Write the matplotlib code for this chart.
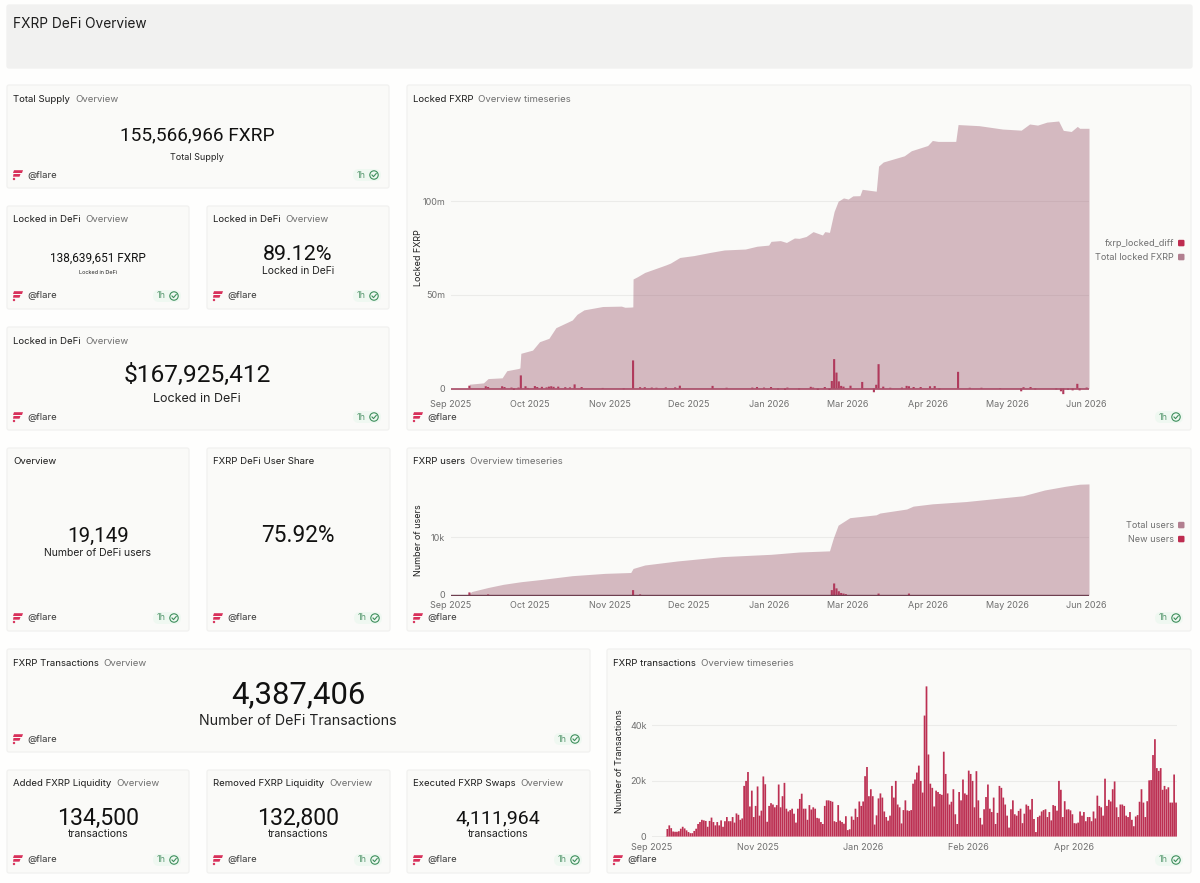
"""
plot.py - FXRP DeFi overview dashboard, cards plus three daily time series.
Page furniture is drawn in pixels on a full figure axes, charts get own axes.
"""
import matplotlib
matplotlib.use("Agg")
import matplotlib.pyplot as plt
from matplotlib.patches import Circle, FancyBboxPatch

W, H = 1200, 883
plt.rcParams["font.family"] = ["Inter", "DejaVu Sans"]

BG = "#fefefd"
CARD = "#fafaf8"
EDGE = "#f1f1ef"
HEAD = "#f1f1f0"
INK = "#1c1c1c"
GREY = "#6f6f6f"
CRIMSON = "#be2c50"
AREA = "#9b596e"

# locked FXRP area, in days since 1 Sep 2025 and millions
locked_days = [0, 7.9, 8, 14, 16, 22, 24, 29, 29.6, 30, 35, 38, 42, 45, 52, 54, 57, 65, 73, 74.5,
               77, 77.9, 78, 80, 83, 92, 94, 98, 104, 111, 117, 126, 131, 136, 137, 141, 143.6,
               147, 149, 152, 155, 159, 160, 162, 164, 165.7, 168, 170, 172, 175, 176, 182,
               183, 185, 191, 194, 197, 204, 206, 208.4, 216, 217, 226, 236, 244, 247.6, 251,
               255, 260, 262, 265.4, 268, 269, 273]
locked_total = [0, 0, 2.3, 3, 5.3, 5.7, 9.5, 10.7, 11, 18.8, 20.5, 25, 26.8, 32.5, 36.6, 39.6, 42,
                43.8, 44, 43.4, 43.5, 43.6, 58.5, 59.8, 62, 66, 67, 70, 71, 72.7, 74, 74.5, 76,
                76.6, 78.6, 79, 78, 80.4, 80.2, 81.2, 83.8, 82, 83.8, 83.4, 94.6, 100, 101.8,
                101.2, 102.9, 103, 106.4, 105.4, 118.8, 121, 123.2, 124.3, 127, 129.8, 132.5,
                132, 132, 141, 140.4, 138.6, 138, 141.3, 140.7, 142.3, 142.9, 137.9, 137.3,
                140, 139, 139]

# fxrp_locked_diff bars, only the days that rise off the baseline
diff_days = [8, 15, 16, 22, 23, 26, 27, 29, 30, 32, 33, 36, 37, 39, 41, 42, 43, 44, 46, 49, 51, 53,
             56, 65, 74, 78, 81, 83, 86, 88, 92, 96, 98, 112, 118, 129, 131, 134, 137, 140, 143,
             144, 149, 154, 155, 157, 160, 162, 163, 164, 165, 166, 167, 168, 171, 176, 181,
             182, 183, 185, 188, 193, 195, 196, 198, 201, 205, 207, 209, 217, 222, 227, 235,
             244, 245, 248, 250, 259, 261, 262, 264, 266, 268, 269, 272]
diff_values = [1.5, 1.2, 0.8, 1.2, 0.8, 0.5, -0.8, 0.5, 7, 1.2, 0.3, 1.3, 0.8, 0.9, 0.6, 1, 1.2,
               0.9, 1, 0.7, 0.6, 2.2, 0.8, 0.3, -0.4, 15, 0.7, 0.7, 0.5, 0.4, 0.6, 0.6, 1.5, 1.4,
               0.4, 0.5, 0.8, 0.5, 0.8, -0.5, -0.8, 0.5, -0.5, 0.9, 0.5, -0.8, 0.8, -0.7, 4, 15.7,
               8.5, 3.8, 1.4, 1, 1.5, 3.5, -2, 2, 13, 1, 0.4, 0.5, 1.4, 1.2, 0.8, 0.8, 1.2, 1.3,
               -0.5, 8.9, 0.4, 0.4, -0.3, -1.5, 0.7, 0.8, -0.5, -0.5, -1.5, -3, -0.7, -1, 2.5,
               -1, 0.5]

# total users area, thousands
users_days = [0, 7.9, 8, 9, 16, 22.5, 30, 39, 52, 66, 77, 78, 83, 97, 116, 137, 149, 162, 163.6,
              165.7, 170.7, 182, 183.5, 195, 197.8, 206, 220.5, 244.8, 254, 263, 269, 273]
users_total = [0, 0, 0.3, 0.6, 1.3, 1.85, 2.3, 2.7, 3.35, 3.75, 3.9, 4.6, 5.2, 5.9, 6.65, 7.05,
               7.45, 7.65, 9.8, 12.1, 13.4, 13.9, 14.2, 14.9, 15.4, 15.8, 16.2, 17.2, 18.2, 18.85,
               19.2, 19.25]
new_days = [8, 16, 78, 81, 163, 164, 165, 166, 167, 168, 169, 183, 196]
new_users = [0.45, 0.1, 0.85, 0.1, 0.85, 2, 1.15, 0.65, 0.35, 0.25, 0.15, 0.25, 0.25]

# daily transactions, thousands, first bar on day 8
tx_first_day = 8
tx_values = [2.7, 4, 3, 1.8, 1.7, 1.7, 1.9, 2.8, 3.5, 2.9, 2.2, 1.6, 1.2, 1.2, 2, 2.8, 4.5, 5.2, 6,
             5.8, 5.6, 3.5, 5.6, 6.8, 5.2, 4, 5.2, 4, 5.8, 3.5, 5.5, 7, 5.5, 5.5, 7, 5, 8.3, 7.8, 6,
             6.5, 18.2, 20, 23.2, 10.8, 16.5, 7, 11, 18, 7.5, 9.3, 21.6, 18.8, 5.3, 11, 12, 11.5,
             10.5, 11.3, 18.7, 10.5, 14.5, 19.3, 10, 9, 9.5,
             10, 8.2, 5, 10, 13.5, 15.4, 10, 10, 6, 11.3, 9.7, 10.5, 10, 6.7, 6.5, 5.2, 4.5, 11, 13,
             13, 12.8, 12.5, 5.5, 5.2, 11.3, 5.7, 5.2, 4.6, 7.3, 2.3, 2.6, 7.2, 6, 10, 7, 12.6, 11,
             12.6, 21.7, 25, 14.5, 17, 14.5, 4.3, 7.6, 13.7, 15.5, 14, 9, 7, 5.7, 7.5, 18.2, 14, 20,
             11.5, 10.5, 4.7, 9.5, 13, 9.4, 9.2, 9.5, 19, 20.5, 23, 25.5,
             20, 15.8, 43.5, 54, 29.5, 19, 17.5, 10.8, 16.5, 16, 15.3, 15, 30.5, 22.5, 15.5, 11.5,
             12.5, 17, 8, 4.5, 16, 13, 20.5, 15.5, 15, 23.7, 22.5, 20, 10.5, 23.5, 13, 6.7, 4.3,
             9.8, 14.2, 18.7, 10, 8.8, 14, 4.5, 8.5, 18.2, 17.5, 14, 11.5, 7.5, 3.2, 9.8, 13, 8,
             7.5, 9.2, 10, 4.8, 8.2, 11.5, 11, 9.7, 13.5, 6.3, 1.6, 7, 7.5, 9, 9.5, 9.8, 7, 8.8,
             5.8, 11.3, 11, 9.3, 20, 16.8, 7, 12.7, 9.7, 9.8, 9.4, 8, 4.8, 4.7, 5, 9, 7.5, 8.8, 5.5,
             7, 7, 5.5, 9, 6.5, 14.7, 11, 10.5, 7.5, 20.8, 11, 13.2, 12.6, 17, 19.8, 10.5, 7, 11.5,
             11.5, 11, 7.5, 7, 8.8, 6, 3.7, 7.2, 7.7, 12.5, 17, 12.2, 7, 12.7, 20.2, 20.3, 29.3, 35,
             24.6, 23.6, 24.6, 16.8, 18.2, 17, 17.7, 12.2, 12.2, 22.3, 12.2]

month_labels_34d = ["Sep 2025", "Oct 2025", "Nov 2025", "Dec 2025", "Jan 2026", "Mar 2026",
                    "Apr 2026", "May 2026", "Jun 2026"]
month_labels_55d = ["Sep 2025", "Nov 2025", "Jan 2026", "Feb 2026", "Apr 2026"]
ticks_34d = [0, 34, 68, 102, 136, 170, 204, 238, 272]
ticks_55d = [0, 55, 110, 165, 220]

fig = plt.figure(figsize=(W / 100, H / 100), dpi=100, facecolor=BG)
page = fig.add_axes([0, 0, 1, 1], zorder=0)
page.set_xlim(0, W)
page.set_ylim(H, 0)
page.axis("off")


def px(size):
    return size * 0.72


def card(left, top, right, bottom, title, sub, face=CARD, edge=EDGE, footer=True):
    page.add_patch(FancyBboxPatch((left, top), right - left, bottom - top,
                                  boxstyle="round,pad=0,rounding_size=2",
                                  fc=face, ec=edge, lw=0.9))
    t = page.text(left + 6, top + 14, title, fontsize=px(9.6), color=INK, va="center")
    fig.canvas.draw()
    end = t.get_window_extent().x1
    page.text(end + 5, top + 14, sub, fontsize=px(9.6), color=GREY, va="center")
    if footer:
        flare_logo(left + 6, bottom - 13)
        page.text(left + 20, bottom - 13, "@flare", fontsize=px(9.5), color="#3a3a3a", va="center")
        badge(right - 15, bottom - 13)


def flare_logo(x, y):
    # little stripes of the flare mark
    page.fill([x + 1, x + 10, x + 9, x], [y - 4.8, y - 4.8, y - 2, y - 2], color="#d8315b", lw=0)
    page.fill([x + 0.5, x + 7.5, x + 6.5, x], [y - 1, y - 1, y + 1.7, y + 1.7], color="#d8315b", lw=0)
    page.add_patch(Circle((x + 1, y + 4), 1.2, color="#d8315b", lw=0))


def badge(x, y):
    page.add_patch(FancyBboxPatch((x - 21, y - 6), 28, 12, boxstyle="round,pad=0,rounding_size=6",
                                  fc="#eff8f1", ec="none"))
    page.text(x - 13, y, "1h", fontsize=px(9), color="#5a9a72", ha="center", va="center")
    page.add_patch(Circle((x, y), 4.2, fc="none", ec="#3f8f5d", lw=0.8))
    page.plot([x - 2, x - 0.5, x + 2.2], [y, y + 1.6, y - 1.5], color="#3f8f5d", lw=0.8)


def stat(x, y_big, big, size_big, y_small, small, size_small):
    page.text(x, y_big + 1, big, fontsize=px(size_big), color="#111111", ha="center", va="center",
              family=["Roboto", "DejaVu Sans"])
    if small:
        page.text(x, y_small + 1, small, fontsize=px(size_small), color="#222222", ha="center", va="center")


def chart_axes(left, top, right, bottom, base, per_unit):
    ax = fig.add_axes([left / W, 1 - bottom / H, (right - left) / W, (bottom - top) / H], zorder=2)
    ax.patch.set_alpha(0)
    ax.set_ylim((base - bottom) / per_unit, (base - top) / per_unit)
    for s in ax.spines.values():
        s.set_visible(False)
    ax.tick_params(length=0, labelsize=px(9), labelcolor=GREY)
    ax.set_axisbelow(True)
    return ax


def legend(rows, y, gap=14):
    for i, (name, colour) in enumerate(rows):
        yy = y + i * gap
        page.text(1174, yy, name, fontsize=px(9.1), color=GREY, ha="right", va="center")
        page.add_patch(FancyBboxPatch((1178, yy - 3.2), 6.5, 6.5, boxstyle="round,pad=0,rounding_size=1.2",
                                      fc=colour, ec="none"))


# header and cards
card(7, 5, 1192, 68, "", "", face=HEAD, edge=HEAD, footer=False)
page.text(13, 24, "FXRP DeFi Overview", fontsize=px(13.7), color=INK, va="center")

card(7, 85, 389, 188, "Total Supply", "Overview")
stat(197, 134, "155,566,966 FXRP", 19, 157, "Total Supply", 9)
card(7, 206, 189, 309, "Locked in DeFi", "Overview")
stat(98, 257, "138,639,651 FXRP", 11.8, 271, "Locked in DeFi", 5.5)
card(207, 206, 389, 309, "Locked in DeFi", "Overview")
stat(298, 254, "89.12%", 21.5, 270, "Locked in DeFi", 10.4)
card(7, 327, 389, 430, "Locked in DeFi", "Overview")
stat(197, 374, "$167,925,412", 24.5, 398, "Locked in DeFi", 12.5)
card(407, 85, 1191, 430, "Locked FXRP", "Overview timeseries")

card(7, 448, 189, 631, "Overview", "")
stat(98, 535, "19,149", 20.5, 552, "Number of DeFi users", 10.4)
card(207, 448, 390, 631, "FXRP DeFi User Share", "")
stat(298, 535, "75.92%", 22.6, 0, "", 0)
card(407, 448, 1191, 631, "FXRP users", "Overview timeseries")

card(7, 649, 590, 752, "FXRP Transactions", "Overview")
stat(298, 694, "4,387,406", 31, 720, "Number of DeFi Transactions", 14.2)
card(7, 770, 189, 873, "Added FXRP Liquidity", "Overview")
stat(98, 817, "134,500", 23, 833, "transactions", 10.5)
card(207, 770, 390, 873, "Removed FXRP Liquidity", "Overview")
stat(298, 817, "132,800", 23, 833, "transactions", 10.5)
card(407, 770, 590, 873, "Executed FXRP Swaps", "Overview")
stat(498, 817, "4,111,964", 19.5, 833, "transactions", 10.5)
card(607, 649, 1191, 873, "FXRP transactions", "Overview timeseries")

# locked FXRP chart
ax = chart_axes(450.7, 110, 1089, 396, 388.5, 1.872)
ax.set_xlim(0, 273)
ax.grid(axis="y", color="#ebebe9", lw=0.8)
ax.fill_between(locked_days, locked_total, 0, color=AREA, alpha=0.4, lw=0)
ax.bar(diff_days, diff_values, width=0.9, color="#b03a5c", snap=False)
ax.plot([0, 273], [0, 0], color="#a84a66", lw=1.2)
ax.set_yticks([0, 50, 100], ["0", "50m", "100m"])
ax.set_xticks(ticks_34d, month_labels_34d)
ax.tick_params(axis="x", pad=3)
ax.tick_params(axis="y", pad=4)
ax.set_ylabel("Locked FXRP", fontsize=px(9), color=INK)
ax.yaxis.set_label_coords((423 - 450.7) / 638.3, (396 - 258) / 286)
legend([("fxrp_locked_diff", CRIMSON), ("Total locked FXRP", "#b27f90")], 243)

# users chart
ax = chart_axes(450.7, 475, 1089, 595.5, 595, 5.77)
ax.set_xlim(0, 273)
ax.grid(axis="y", color="#ebebe9", lw=0.8)
ax.fill_between(users_days, users_total, 0, color=AREA, alpha=0.4, lw=0)
ax.bar(new_days, new_users, width=0.9, color="#b03a5c", snap=False)
ax.plot([0, 273], [0, 0], color="#6e3f50", lw=1.0)
ax.set_yticks([0, 10], ["0", "10k"])
ax.set_xticks(ticks_34d, month_labels_34d)
ax.tick_params(axis="x", pad=4)
ax.tick_params(axis="y", pad=4)
ax.set_ylabel("Number of users", fontsize=px(9), color=INK)
ax.yaxis.set_label_coords((423 - 450.7) / 638.3, (595.5 - 540) / 120.5)
legend([("Total users", "#b27f90"), ("New users", CRIMSON)], 525)

# transactions chart
tx_days = [tx_first_day + i * 1.0 for i in range(len(tx_values))]
ax = chart_axes(652, 680, 1177, 837, 836.5, 2.78)
ax.set_xlim(0, 273.5)
ax.grid(axis="y", color="#ebebe9", lw=0.8)
ax.bar(tx_days, tx_values, width=0.9, color="#bc2f52", snap=False)
ax.plot([0, tx_first_day - 0.5], [0, 0], color="#8a8a8a", lw=0.9)
ax.plot([tx_first_day - 0.5, 273.5], [0, 0], color="#c93a5d", lw=1.0)
ax.set_yticks([0, 20, 40], ["0", "20k", "40k"])
ax.set_xticks(ticks_55d, month_labels_55d)
ax.tick_params(axis="x", pad=4)
ax.tick_params(axis="y", pad=4)
ax.set_ylabel("Number of Transactions", fontsize=px(9), color=INK)
ax.yaxis.set_label_coords((624 - 652) / 525, (837 - 761) / 157)

fig.savefig("out.png", dpi=100, facecolor=BG)
